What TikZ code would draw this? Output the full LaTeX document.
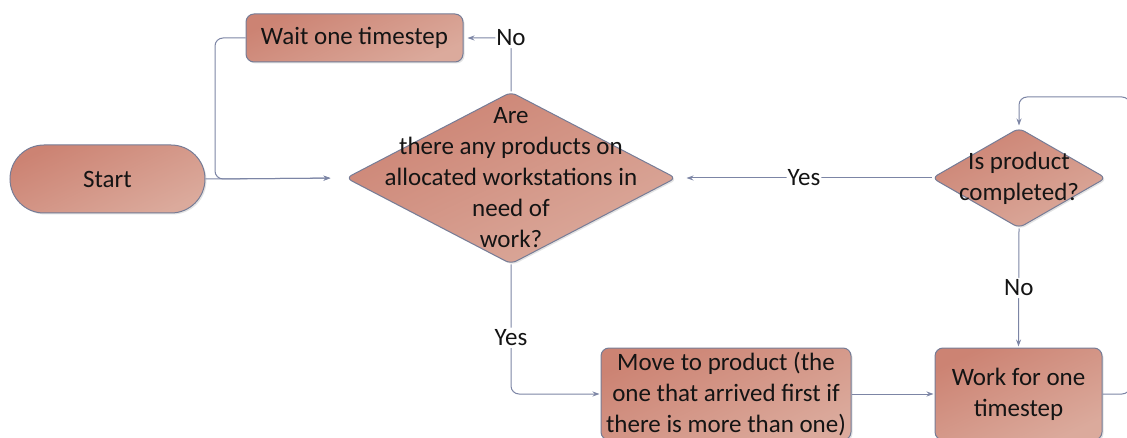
\documentclass[tikz,border=0pt]{standalone}
\usepackage{fontspec}
\setmainfont{Carlito}
\usetikzlibrary{shapes.geometric,arrows.meta,shadows}
\definecolor{fillA}{RGB}{204,131,115}
\definecolor{fillB}{RGB}{219,170,156}
\definecolor{edgec}{RGB}{118,124,150}
\definecolor{linec}{RGB}{124,133,165}
\definecolor{txt}{RGB}{20,20,20}
\tikzset{
  shape fill/.style={draw=edgec, line width=1pt, top color=fillA, bottom color=fillB, shading angle=25,
    drop shadow={opacity=0.22, shadow xshift=1.5pt, shadow yshift=-1.5pt}},
  procbox/.style={shape fill, rectangle, rounded corners=8pt, inner sep=0pt, align=center, text=txt,
    font=\fontsize{25}{31}\selectfont},
  termbox/.style={shape fill, rectangle, rounded corners=34pt, inner sep=0pt, text=txt,
    font=\fontsize{25}{31}\selectfont},
  decbox/.style={shape fill, diamond, rounded corners=6pt, inner sep=0pt},
  dectext/.style={align=center, text=txt, font=\fontsize{25}{31}\selectfont, inner sep=0pt},
  conn/.style={draw=linec, line width=1pt, rounded corners=8pt, -{Stealth[length=7pt,width=5pt]}},
  lbl/.style={fill=white, text=txt, font=\fontsize{25}{31}\selectfont, inner sep=2pt}
}
\begin{document}
\begin{tikzpicture}[x=1pt,y=-1pt]
\useasboundingbox (0,0) rectangle (1127,438);
\clip (0,0) rectangle (1127,438);
% nodes
\node[termbox, minimum width=195pt, minimum height=68pt] (start) at (107.5,179) {Start};
\node[procbox, minimum width=217pt, minimum height=48pt] (wait) at (354.5,38) {Wait one timestep};
\node[decbox, minimum width=330pt, minimum height=172pt] (dia) at (511,178) {};
\node[dectext] (diat) at (511,178) {Are\\there any products on\\allocated workstations in\\need of\\work?};
\node[decbox, minimum width=174pt, minimum height=100pt] (sdia) at (1019,178) {};
\node[dectext] (sdiat) at (1019,178) {Is product\\completed?};
\node[procbox, minimum width=250pt, minimum height=92pt] (move) at (726,394) {Move to product (the\\one that arrived first if\\there is more than one)};
\node[procbox, minimum width=167pt, minimum height=92pt] (work) at (1018.5,394) {Work for one\\timestep};
\coordinate (join) at (215,179);
\coordinate (loopR) at (1130,97);
% connectors
\draw[conn, shorten >=15pt] (start.east) -- (dia.west);
\draw[conn, shorten >=15pt] (wait.west) -| (join) -- (dia.west);
\draw[conn, shorten >=4pt] (dia.north) |- node[lbl, pos=0.5, inner xsep=1pt] {No} (wait.east);
\draw[conn, shorten >=1pt] (dia.south) |- node[lbl, pos=0.283] {Yes} (move.west);
\draw[conn, shorten >=1pt] (move.east) -- (work.west);
\draw[conn, shorten >=10pt] (sdia.west) -- node[lbl, pos=0.5, inner xsep=1pt] {Yes} (dia.east);
\draw[conn, shorten >=1pt] (sdia.south) -- node[lbl, pos=0.5] {No} (work.north);
\draw[conn, shorten >=2pt] (work.east) -| (loopR) -| (sdia.north);
\end{tikzpicture}
\end{document}
